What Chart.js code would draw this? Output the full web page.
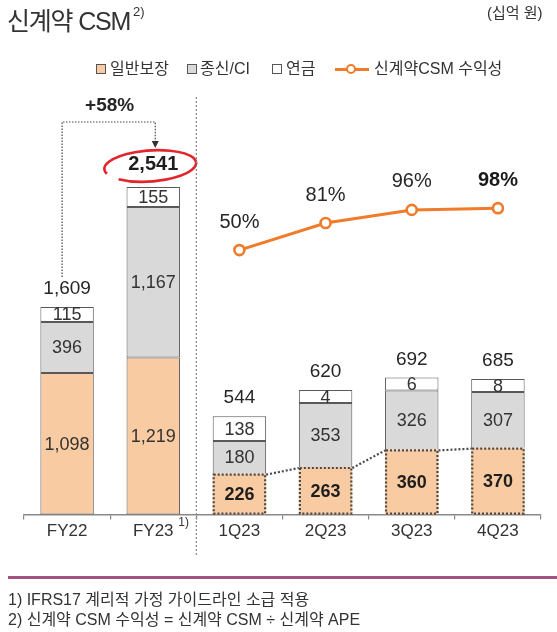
<!DOCTYPE html>
<html><head><meta charset="utf-8">
<script src="https://cdn.jsdelivr.net/npm/chart.js@4"></script>
<style>
html,body{margin:0;padding:0;background:#fff;}
body{width:557px;height:632px;position:relative;overflow:hidden;font-family:"Liberation Sans","Noto Sans CJK KR",sans-serif;color:#262626;}
#wrap{position:absolute;left:0;top:0;width:557px;height:632px;}
.t{position:absolute;white-space:nowrap;line-height:1;}
.sq{position:absolute;width:8px;height:8px;border:1px solid #555;}
</style></head><body>
<div id="wrap"><canvas id="c"></canvas></div>

<div class="t" style="left:7px;top:9px;font-size:25px;letter-spacing:-1.2px;color:#333;">신계약 CSM</div>
<div class="t" style="left:133px;top:5px;font-size:13px;color:#333;">2)</div>
<div class="t" style="left:487px;top:5px;font-size:15px;color:#333;">(십억 원)</div>

<div class="sq" style="left:96px;top:64px;background:#F8CBA3;"></div>
<div class="t" style="left:110px;top:61px;font-size:16px;color:#333;">일반보장</div>
<div class="sq" style="left:187px;top:64px;background:#D9D9D9;"></div>
<div class="t" style="left:200px;top:61px;font-size:16px;color:#333;">종신/CI</div>
<div class="sq" style="left:272px;top:64px;background:#fff;"></div>
<div class="t" style="left:286px;top:61px;font-size:16px;color:#333;">연금</div>
<div style="position:absolute;left:335px;top:68px;width:34px;height:3px;background:#F07B2B;"></div>
<div style="position:absolute;left:346px;top:64px;width:6px;height:6px;border:2.5px solid #F07B2B;border-radius:50%;background:#fff;"></div>
<div class="t" style="left:374px;top:61px;font-size:16px;color:#333;">신계약CSM 수익성</div>

<div style="position:absolute;left:8px;top:576px;width:549px;height:3px;background:#A4527F;"></div>
<div class="t" style="left:8px;top:592px;font-size:16px;color:#333;">1) IFRS17 계리적 가정 가이드라인 소급 적용</div>
<div class="t" style="left:8px;top:612px;font-size:16px;color:#333;">2) 신계약 CSM 수익성 = 신계약 CSM ÷ 신계약 APE</div>

<script>
// ---- data ----
const categories = ['FY22', 'FY23', '1Q23', '2Q23', '3Q23', '4Q23'];
const fyGeneral = [1098, 1219];
const fyWhole   = [396, 1167];
const fyAnnuity = [115, 155];
const fyTotal   = [1609, 2541];
const qGeneral  = [226, 263, 360, 370];
const qWhole    = [180, 353, 326, 307];
const qAnnuity  = [138, 4, 6, 8];
const qTotal    = [544, 620, 692, 685];
const qMargin   = [50, 81, 96, 98];
const tickNotes = ['', '1)', '', '', '', ''];
const growthText = '+58%';

// ---- helpers ----
const padFY = a => [...a, null, null, null, null];
const padQ  = a => [null, null, ...a];
const fmt = v => v.toLocaleString('en-US');
const FONT = '"Liberation Sans","Noto Sans CJK KR",sans-serif';
const ORANGE = '#F07B2B', PEACH = '#F8CBA3', GREY = '#D9D9D9', EDGE = '#595959';

const totals = [...fyTotal, ...qTotal];

const deco = {
  id: 'deco',
  afterDatasetsDraw(chart) {
    const ctx = chart.ctx;
    const xs = chart.scales.x;
    const metaQG = chart.getDatasetMeta(4);
    const metaFYA = chart.getDatasetMeta(3);
    const metaQA = chart.getDatasetMeta(6);
    ctx.save();
    // dotted outline on quarterly general bars + connectors
    ctx.strokeStyle = '#4a4a4a';
    ctx.lineWidth = 2.2;
    ctx.setLineDash([2, 2]);
    const qEls = metaQG.data.filter((e, i) => chart.data.datasets[4].data[i] != null);
    qEls.forEach(el => {
      const w = el.width;
      ctx.strokeRect(el.x - w / 2 + 1, el.y + 1, w - 2, el.base - el.y - 2);
    });
    for (let i = 0; i < qEls.length - 1; i++) {
      const a = qEls[i], b = qEls[i + 1];
      ctx.beginPath();
      ctx.moveTo(a.x + a.width / 2, a.y + 1);
      ctx.lineTo(b.x - b.width / 2, b.y + 1);
      ctx.stroke();
    }
    ctx.setLineDash([]);

    // segment labels
    ctx.textAlign = 'center';
    ctx.textBaseline = 'middle';
    [1, 2, 3, 4, 5, 6].forEach(di => {
      const ds = chart.data.datasets[di];
      chart.getDatasetMeta(di).data.forEach((el, i) => {
        const v = ds.data[i];
        if (v == null) return;
        const bold = di === 4;
        ctx.font = (bold ? 'bold 18px ' : '18px ') + FONT;
        ctx.fillStyle = bold ? '#1e1e1e' : '#333';
        ctx.fillText(fmt(v), el.x, (el.y + el.base) / 2 + 1);
      });
    });

    // totals
    const tops = [...metaFYA.data.slice(0, 2), ...metaQA.data.slice(2)];
    tops.forEach((el, i) => {
      const big = i === 1;
      ctx.font = (big ? 'bold 20px ' : '19px ') + FONT;
      ctx.fillStyle = big ? '#1e1e1e' : '#262626';
      const ty = el.y - (big ? 22 : 18);
      ctx.fillText(fmt(totals[i]), el.x, ty);
      if (big) {
        ctx.strokeStyle = '#E3262B';
        ctx.lineWidth = 2.6;
        ctx.beginPath();
        ctx.ellipse(el.x - 3, ty + 1, 46, 15.5, -0.07, 0.9 * Math.PI, 2.75 * Math.PI);
        ctx.stroke();
      }
    });

    // percent labels
    const lineMeta = chart.getDatasetMeta(0);
    lineMeta.data.forEach((pt, i) => {
      const v = chart.data.datasets[0].data[i];
      if (v == null) return;
      const last = i === lineMeta.data.length - 1;
      ctx.font = (last ? 'bold 20px ' : '20px ') + FONT;
      ctx.fillStyle = last ? '#1a1a1a' : '#262626';
      ctx.fillText(v + '%', pt.x, pt.y - 28);
    });

    // divider
    const divX = (xs.getPixelForValue(1) + xs.getPixelForValue(2)) / 2;
    ctx.strokeStyle = '#888';
    ctx.lineWidth = 1.2;
    ctx.setLineDash([2, 2]);
    ctx.beginPath();
    ctx.moveTo(divX, 97);
    ctx.lineTo(divX, 556);
    ctx.stroke();

    // growth bracket
    const a0 = metaFYA.data[0], a1 = metaFYA.data[1];
    const lx = a0.x - 5, rx = a1.x + 2;
    const topY = 122;
    ctx.strokeStyle = '#444';
    ctx.lineWidth = 1.2;
    ctx.setLineDash([1.5, 1.5]);
    ctx.beginPath();
    ctx.moveTo(lx, a0.y - 30);
    ctx.lineTo(lx, topY);
    ctx.lineTo(rx, topY);
    ctx.lineTo(rx, topY + 20);
    ctx.stroke();
    ctx.setLineDash([]);
    ctx.fillStyle = '#333';
    ctx.beginPath();
    ctx.moveTo(rx - 3.5, topY + 19);
    ctx.lineTo(rx + 3.5, topY + 19);
    ctx.lineTo(rx, topY + 26);
    ctx.closePath();
    ctx.fill();
    ctx.font = 'bold 19px ' + FONT;
    ctx.fillStyle = '#262626';
    ctx.fillText(growthText, (lx + rx) / 2 + 1, topY - 16);

    // tick superscripts
    ctx.font = '12px ' + FONT;
    ctx.fillStyle = '#333';
    ctx.textAlign = 'left';
    tickNotes.forEach((n, i) => {
      if (!n) return;
      ctx.fillText(n, xs.getPixelForValue(i) + 25, chart.chartArea.bottom + 8);
    });
    ctx.restore();
  }
};

const barBase = { type: 'bar', stack: 'all', borderColor: EDGE, borderWidth: 1, borderSkipped: false, barPercentage: 0.62, categoryPercentage: 1 };

new Chart(document.getElementById('c'), {
  data: {
    labels: categories,
    datasets: [
      { type: 'line', label: '신계약CSM 수익성', data: padQ(qMargin), yAxisID: 'yP', borderColor: ORANGE, borderWidth: 3,
        pointRadius: 5, pointBorderWidth: 2.6, pointBackgroundColor: '#fff', pointBorderColor: ORANGE, tension: 0 },
      { ...barBase, label: '일반보장', data: padFY(fyGeneral), yAxisID: 'yF', backgroundColor: PEACH },
      { ...barBase, label: '종신/CI', data: padFY(fyWhole), yAxisID: 'yF', backgroundColor: GREY },
      { ...barBase, label: '연금', data: padFY(fyAnnuity), yAxisID: 'yF', backgroundColor: '#fff' },
      { ...barBase, label: '일반보장', data: padQ(qGeneral), yAxisID: 'yQ', backgroundColor: PEACH, borderWidth: 0 },
      { ...barBase, label: '종신/CI', data: padQ(qWhole), yAxisID: 'yQ', backgroundColor: GREY, borderSkipped: 'start' },
      { ...barBase, label: '연금', data: padQ(qAnnuity), yAxisID: 'yQ', backgroundColor: '#fff', minBarLength: 13 }
    ]
  },
  options: {
    responsive: true,
    maintainAspectRatio: false,
    animation: false,
    layout: { padding: { left: 24, right: 16, top: 120, bottom: 88 } },
    plugins: { legend: { display: false }, tooltip: { enabled: false } },
    scales: {
      x: {
        stacked: true, offset: true,
        grid: { offset: true, drawOnChartArea: false, drawTicks: true, tickLength: 5, color: '#888', lineWidth: 1.2 },
        border: { color: '#888', width: 1.5 },
        ticks: { color: '#333', font: { size: 17, family: FONT }, padding: 2 }
      },
      yF: { stacked: true, display: false, min: 0, max: 3060 },
      yQ: { stacked: true, display: false, min: 0, max: 2180 },
      yP: { display: false, min: -253, max: 199 }
    }
  },
  plugins: [deco]
});
</script>
</body></html>
